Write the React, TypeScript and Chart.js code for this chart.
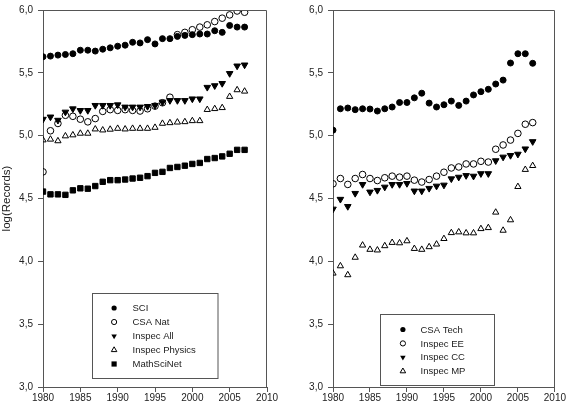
import React, { useEffect, useRef } from "react";
import { Chart, registerables } from "chart.js";

Chart.register(...registerables);

const years = [1980, 1981, 1982, 1983, 1984, 1985, 1986, 1987, 1988, 1989, 1990, 1991, 1992, 1993, 1994, 1995, 1996, 1997, 1998, 1999, 2000, 2001, 2002, 2003, 2004, 2005, 2006, 2007];

const xTickValues = [1980, 1985, 1990, 1995, 2000, 2005, 2010];
const yTickValues = [3.0, 3.5, 4.0, 4.5, 5.0, 5.5, 6.0];
const yTickLabels = ["3,0", "3,5", "4,0", "4,5", "5,0", "5,5", "6,0"];
const yAxisTitle = "log(Records)";

// Left panel
const sciValues = [5.628, 5.633, 5.641, 5.646, 5.652, 5.680, 5.680, 5.673, 5.688, 5.699, 5.712, 5.720, 5.743, 5.738, 5.764, 5.730, 5.772, 5.772, 5.790, 5.798, 5.804, 5.809, 5.809, 5.835, 5.822, 5.877, 5.864, 5.864];
const csaNatValues = [4.712, 5.039, 5.097, 5.162, 5.154, 5.131, 5.110, 5.136, 5.193, 5.207, 5.201, 5.207, 5.201, 5.196, 5.214, 5.235, 5.262, 5.306, 5.804, 5.822, 5.843, 5.864, 5.882, 5.908, 5.935, 5.961, 5.992, 5.982];
const inspecAllValues = [5.131, 5.149, 5.123, 5.188, 5.214, 5.201, 5.201, 5.241, 5.241, 5.241, 5.246, 5.228, 5.228, 5.228, 5.233, 5.241, 5.267, 5.280, 5.280, 5.280, 5.293, 5.293, 5.385, 5.398, 5.416, 5.495, 5.555, 5.563];
const inspecPhysicsValues = [4.965, 4.971, 4.958, 4.997, 5.005, 5.018, 5.018, 5.052, 5.044, 5.050, 5.057, 5.052, 5.057, 5.057, 5.057, 5.065, 5.097, 5.102, 5.107, 5.110, 5.118, 5.118, 5.207, 5.214, 5.222, 5.311, 5.364, 5.353];
const mathSciNetValues = [4.555, 4.533, 4.533, 4.529, 4.565, 4.581, 4.578, 4.599, 4.633, 4.646, 4.646, 4.651, 4.659, 4.665, 4.678, 4.704, 4.712, 4.743, 4.751, 4.761, 4.775, 4.783, 4.814, 4.822, 4.835, 4.856, 4.887, 4.887];

// Right panel
const csaTechValues = [5.044, 5.214, 5.220, 5.207, 5.214, 5.212, 5.196, 5.214, 5.228, 5.264, 5.264, 5.301, 5.338, 5.259, 5.228, 5.246, 5.275, 5.241, 5.275, 5.324, 5.350, 5.369, 5.411, 5.442, 5.578, 5.652, 5.652, 5.576];
const inspecEEValues = [4.617, 4.659, 4.612, 4.659, 4.691, 4.659, 4.643, 4.665, 4.678, 4.670, 4.678, 4.646, 4.631, 4.651, 4.678, 4.709, 4.743, 4.751, 4.775, 4.775, 4.796, 4.790, 4.892, 4.926, 4.965, 5.018, 5.091, 5.104];
const inspecCCValues = [4.416, 4.494, 4.437, 4.541, 4.612, 4.552, 4.565, 4.591, 4.612, 4.612, 4.620, 4.560, 4.560, 4.581, 4.599, 4.607, 4.657, 4.670, 4.683, 4.678, 4.698, 4.698, 4.801, 4.830, 4.843, 4.853, 4.895, 4.953];
const inspecMPValues = [3.905, 3.963, 3.892, 4.031, 4.128, 4.094, 4.089, 4.123, 4.149, 4.146, 4.162, 4.101, 4.094, 4.115, 4.136, 4.180, 4.227, 4.233, 4.225, 4.225, 4.259, 4.267, 4.390, 4.246, 4.329, 4.594, 4.730, 4.761];

const FONT = "Arial, 'Liberation Sans', sans-serif";
const AXIS_COLOR = "#555";
const TEXT_COLOR = "#222";

type MarkerKind = "filledCircle" | "openCircle" | "filledDown" | "openUp" | "filledSquare";

const markerStyle: Record<MarkerKind, any> = {
  filledCircle: { pointStyle: "circle", pointRadius: 3.0, pointBackgroundColor: "#000", pointBorderColor: "#000", pointBorderWidth: 1, pointRotation: 0 },
  openCircle: { pointStyle: "circle", pointRadius: 3.3, pointBackgroundColor: "rgba(0,0,0,0)", pointBorderColor: "#000", pointBorderWidth: 1, pointRotation: 0 },
  filledDown: { pointStyle: "triangle", pointRadius: 3.8, pointBackgroundColor: "#000", pointBorderColor: "#000", pointBorderWidth: 1, pointRotation: 180 },
  openUp: { pointStyle: "triangle", pointRadius: 3.6, pointBackgroundColor: "rgba(0,0,0,0)", pointBorderColor: "#000", pointBorderWidth: 1, pointRotation: 0 },
  filledSquare: { pointStyle: "rect", pointRadius: 3.8, pointBackgroundColor: "#000", pointBorderColor: "#000", pointBorderWidth: 1, pointRotation: 0 },
};

function drawLegendMarker(ctx: CanvasRenderingContext2D, kind: MarkerKind, x: number, y: number) {
  ctx.save();
  ctx.lineWidth = 1;
  ctx.strokeStyle = "#000";
  ctx.fillStyle = "#000";
  const r = 2.6;
  ctx.beginPath();
  if (kind === "filledCircle") {
    ctx.arc(x, y, r, 0, Math.PI * 2);
    ctx.fill();
  } else if (kind === "openCircle") {
    ctx.arc(x, y, r, 0, Math.PI * 2);
    ctx.stroke();
  } else if (kind === "filledDown") {
    const rr = 3.2;
    ctx.moveTo(x, y + rr);
    ctx.lineTo(x - rr * 0.866, y - rr * 0.5);
    ctx.lineTo(x + rr * 0.866, y - rr * 0.5);
    ctx.closePath();
    ctx.fill();
  } else if (kind === "openUp") {
    const rr = 3.2;
    ctx.moveTo(x, y - rr);
    ctx.lineTo(x - rr * 0.866, y + rr * 0.5);
    ctx.lineTo(x + rr * 0.866, y + rr * 0.5);
    ctx.closePath();
    ctx.stroke();
  } else {
    ctx.rect(x - 2.6, y - 2.6, 5.2, 5.2);
    ctx.fill();
  }
  ctx.restore();
}

type LegendItem = { label: string; kind: MarkerKind };
type LegendBox = { dx: number; dy: number; w: number; h: number; padTop: number; rowH: number; markerX: number; textX: number };

function makeLegendPlugin(items: LegendItem[], box: LegendBox) {
  return {
    id: "customLegend",
    afterDraw(chart: any) {
      const { ctx, chartArea } = chart;
      const x0 = Math.round(chartArea.left + box.dx) + 0.5;
      const y0 = Math.round(chartArea.top + box.dy) + 0.5;
      ctx.save();
      ctx.fillStyle = "#fff";
      ctx.fillRect(x0, y0, box.w, box.h);
      ctx.strokeStyle = AXIS_COLOR;
      ctx.lineWidth = 1;
      ctx.strokeRect(x0, y0, box.w, box.h);
      ctx.font = `9.5px ${FONT}`;
      ctx.textBaseline = "middle";
      ctx.textAlign = "left";
      items.forEach((it, i) => {
        const cy = y0 + box.padTop + i * box.rowH;
        drawLegendMarker(ctx, it.kind, x0 + box.markerX, cy);
        ctx.fillStyle = TEXT_COLOR;
        ctx.fillText(it.label, x0 + box.textX, cy + 0.5);
      });
      ctx.restore();
    },
  };
}

const framePlugin = {
  id: "frame",
  afterDatasetsDraw(chart: any) {
    const { ctx, chartArea } = chart;
    ctx.save();
    ctx.strokeStyle = AXIS_COLOR;
    ctx.lineWidth = 1;
    ctx.beginPath();
    const l = Math.round(chartArea.left) + 0.5;
    const r = Math.round(chartArea.right) - 0.5;
    const t = Math.round(chartArea.top) + 0.5;
    const b = Math.round(chartArea.bottom);
    ctx.moveTo(l, t);
    ctx.lineTo(r, t);
    ctx.lineTo(r, b);
    ctx.stroke();
    ctx.restore();
  },
};

type Series = { label: string; values: number[]; kind: MarkerKind };

function buildConfig(series: Series[], showTitle: boolean, paddingRight: number, legendBox: LegendBox): any {
  return {
    type: "scatter",
    data: {
      datasets: series.map((s) => ({
        label: s.label,
        data: years.map((yr, i) => ({ x: yr, y: s.values[i] })),
        showLine: false,
        ...markerStyle[s.kind],
      })),
    },
    options: {
      responsive: false,
      animation: false,
      devicePixelRatio: 1,
      layout: { padding: { top: 5, right: paddingRight, left: 0, bottom: 0 } },
      plugins: { legend: { display: false }, tooltip: { enabled: false } },
      scales: {
        x: {
          type: "linear",
          min: 1980,
          max: 2010,
          afterBuildTicks: (scale: any) => {
            scale.ticks = xTickValues.map((v) => ({ value: v }));
          },
          afterFit: (scale: any) => {
            scale.height = 16;
          },
          ticks: {
            color: TEXT_COLOR,
            font: { family: FONT, size: 10, lineHeight: 1 },
            padding: 1,
            maxRotation: 0,
            autoSkip: false,
            callback: (v: any) => String(v),
          },
          grid: { drawOnChartArea: false, drawTicks: true, tickLength: 5, color: AXIS_COLOR, tickColor: AXIS_COLOR },
          border: { color: AXIS_COLOR, width: 1 },
        },
        y: {
          type: "linear",
          min: 3,
          max: 6,
          afterBuildTicks: (scale: any) => {
            scale.ticks = yTickValues.map((v) => ({ value: v }));
          },
          afterFit: (scale: any) => {
            scale.width = 43;
          },
          ticks: {
            color: TEXT_COLOR,
            font: { family: FONT, size: 10, lineHeight: 1 },
            padding: 5,
            autoSkip: false,
            callback: (v: any) => {
              const idx = yTickValues.findIndex((t) => Math.abs(t - v) < 1e-6);
              return idx >= 0 ? yTickLabels[idx] : "";
            },
          },
          title: {
            display: showTitle,
            text: yAxisTitle,
            color: TEXT_COLOR,
            font: { family: FONT, size: 11.5, lineHeight: 1.2 },
            padding: { top: 0, bottom: 0 },
          },
          grid: { drawOnChartArea: false, drawTicks: true, tickLength: 5, color: AXIS_COLOR, tickColor: AXIS_COLOR },
          border: { color: AXIS_COLOR, width: 1 },
        },
      },
    },
    plugins: [
      framePlugin,
      makeLegendPlugin(
        series.map((s) => ({ label: s.label, kind: s.kind })),
        legendBox
      ),
    ],
  };
}

const leftSeries: Series[] = [
  { label: "SCI", values: sciValues, kind: "filledCircle" },
  { label: "CSA Nat", values: csaNatValues, kind: "openCircle" },
  { label: "Inspec All", values: inspecAllValues, kind: "filledDown" },
  { label: "Inspec Physics", values: inspecPhysicsValues, kind: "openUp" },
  { label: "MathSciNet", values: mathSciNetValues, kind: "filledSquare" },
];

const rightSeries: Series[] = [
  { label: "CSA Tech", values: csaTechValues, kind: "filledCircle" },
  { label: "Inspec EE", values: inspecEEValues, kind: "openCircle" },
  { label: "Inspec CC", values: inspecCCValues, kind: "filledDown" },
  { label: "Inspec MP", values: inspecMPValues, kind: "openUp" },
];

function ChartPanel(props: { left: number; width: number; config: () => any }) {
  const ref = useRef<HTMLCanvasElement | null>(null);
  useEffect(() => {
    if (!ref.current) return;
    const chart = new Chart(ref.current, props.config());
    return () => chart.destroy();
  }, []);
  return (
    <canvas
      ref={ref}
      width={props.width}
      height={403}
      style={{ position: "absolute", left: props.left, top: 0, width: props.width, height: 403 }}
    />
  );
}

export default function App() {
  return (
    <div style={{ position: "fixed", left: 0, top: 0, width: 567, height: 403, background: "#fff", overflow: "hidden" }}>
      <ChartPanel
        left={0}
        width={290}
        config={() =>
          buildConfig(leftSeries, true, 23, { dx: 48.7, dy: 283, w: 125.5, h: 85, padTop: 14.5, rowH: 14, markerX: 21.6, textX: 40 })
        }
      />
      <ChartPanel
        left={290}
        width={277}
        config={() =>
          buildConfig(rightSeries, false, 11, { dx: 46.6, dy: 304, w: 114, h: 71, padTop: 15, rowH: 13.9, markerX: 22.4, textX: 40 })
        }
      />
    </div>
  );
}
